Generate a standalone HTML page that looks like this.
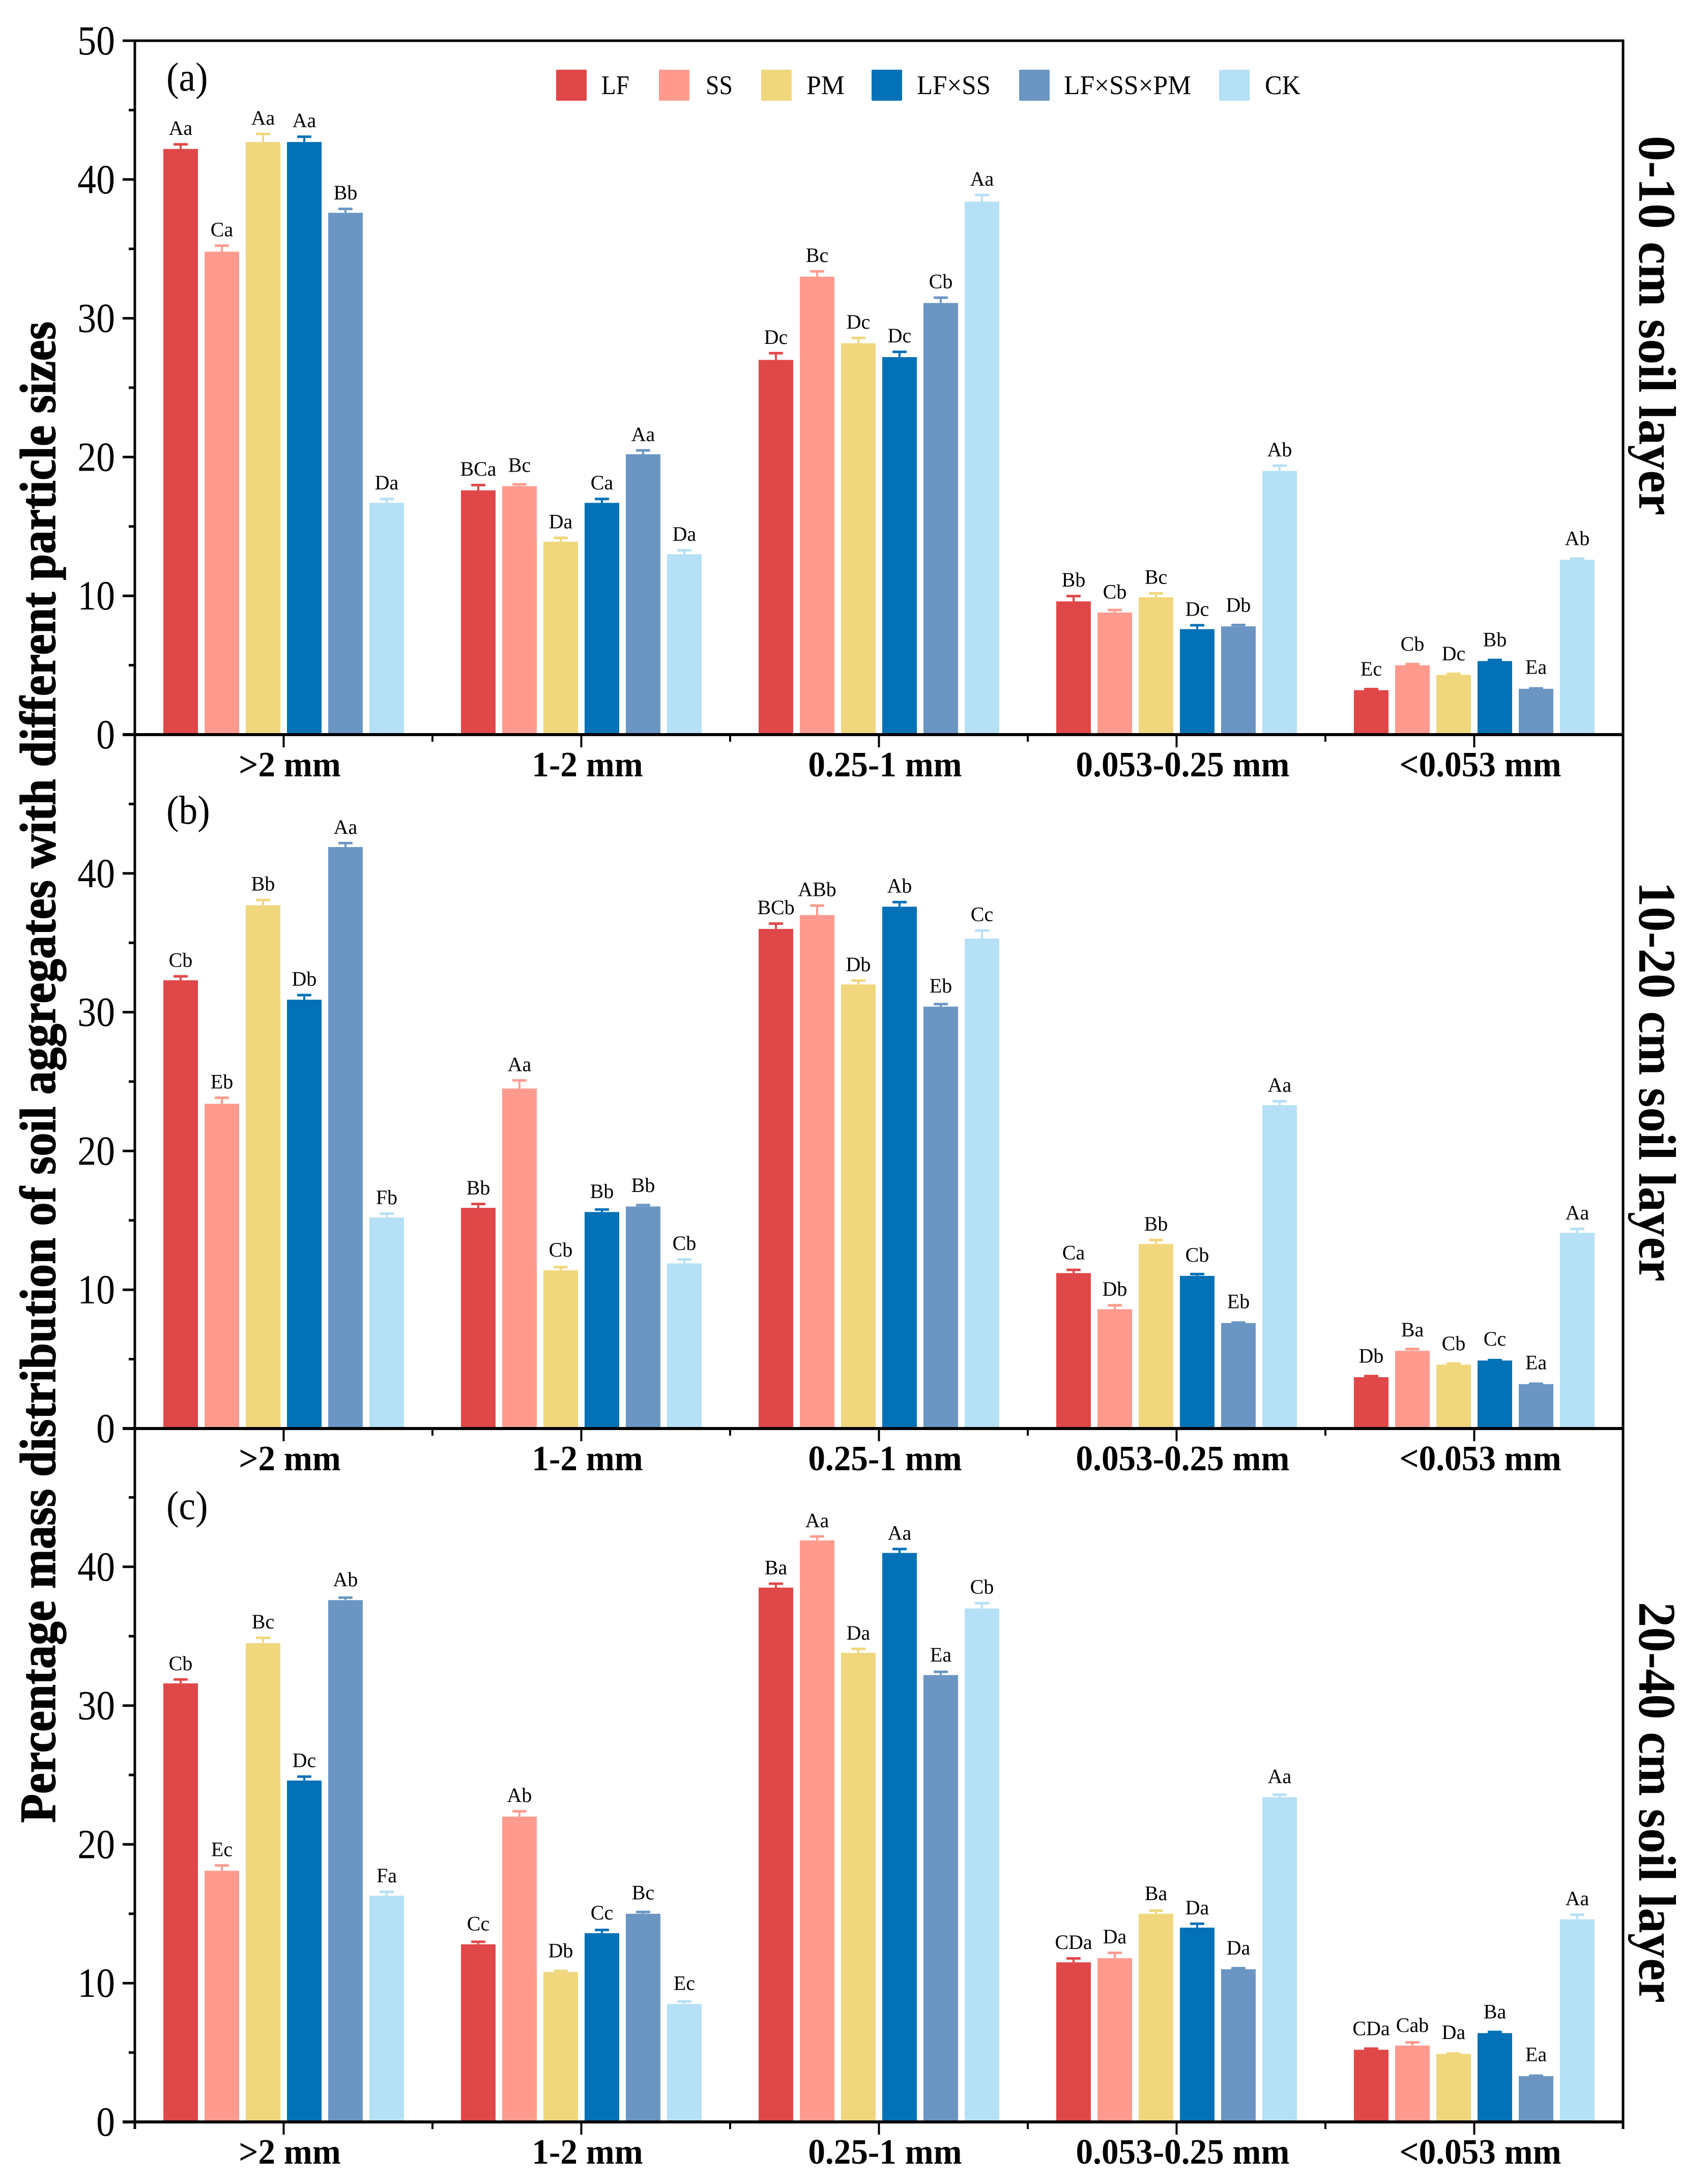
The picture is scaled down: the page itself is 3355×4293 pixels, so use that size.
<!DOCTYPE html>
<html lang="en">
<head>
<meta charset="utf-8">
<title>Percentage mass distribution of soil aggregates</title>
<style>
html,body{margin:0;padding:0;background:#fff;}
svg{display:block;}
text{font-family:"Liberation Serif",serif;fill:#000;}
</style>
</head>
<body>
<svg id="chart" xmlns="http://www.w3.org/2000/svg" width="3355" height="4293" viewBox="0 0 3355 4293">
  <rect x="0" y="0" width="3355" height="4293" fill="#ffffff"/>
  <g id="marks"></g>
  <g id="axes"></g>
  <g id="legend"></g>
  <text transform="translate(108,3583) rotate(-90)" font-size="100" font-weight="bold" stroke="#000" stroke-width="1.5" textLength="2951" lengthAdjust="spacingAndGlyphs">Percentage mass distribution of soil aggregates with different particle sizes</text>
  <text transform="translate(3222,267) rotate(90)" font-size="104" font-weight="bold" textLength="746" lengthAdjust="spacingAndGlyphs">0-10 cm soil layer</text>
  <text transform="translate(3222,1733) rotate(90)" font-size="104" font-weight="bold" textLength="786" lengthAdjust="spacingAndGlyphs">10-20 cm soil layer</text>
  <text transform="translate(3222,3149) rotate(90)" font-size="104" font-weight="bold" textLength="788" lengthAdjust="spacingAndGlyphs">20-40 cm soil layer</text>
</svg>
<script>
const categories = [">2 mm", "1-2 mm", "0.25-1 mm", "0.053-0.25 mm", "<0.053 mm"];
const seriesNames = ["LF", "SS", "PM", "LF×SS", "LF×SS×PM", "CK"];
const yTicksA = [0, 10, 20, 30, 40, 50];
const yTicksBC = [0, 10, 20, 30, 40];
const yMinorTicks = [5, 15, 25, 35, 45];
const panelNames = ["(a)", "(b)", "(c)"];

const valuesA = [
  [42.2, 34.8, 42.7, 42.7, 37.6, 16.7],
  [17.6, 17.9, 13.9, 16.7, 20.2, 13.0],
  [27.0, 33.0, 28.2, 27.2, 31.1, 38.4],
  [9.6, 8.8, 9.9, 7.6, 7.8, 19.0],
  [3.2, 5.0, 4.3, 5.3, 3.3, 12.6]
];
const errorsA = [
  [0.35, 0.45, 0.6, 0.4, 0.3, 0.3],
  [0.4, 0.15, 0.3, 0.3, 0.3, 0.3],
  [0.5, 0.4, 0.4, 0.4, 0.4, 0.5],
  [0.4, 0.2, 0.3, 0.3, 0.12, 0.4],
  [0.1, 0.1, 0.1, 0.1, 0.05, 0.1]
];
const lettersA = [
  ["Aa", "Ca", "Aa", "Aa", "Bb", "Da"],
  ["BCa", "Bc", "Da", "Ca", "Aa", "Da"],
  ["Dc", "Bc", "Dc", "Dc", "Cb", "Aa"],
  ["Bb", "Cb", "Bc", "Dc", "Db", "Ab"],
  ["Ec", "Cb", "Dc", "Bb", "Ea", "Ab"]
];

const valuesB = [
  [32.3, 23.4, 37.7, 30.9, 41.9, 15.2],
  [15.9, 24.5, 11.4, 15.6, 16.0, 11.9],
  [36.0, 37.0, 32.0, 37.6, 30.4, 35.3],
  [11.2, 8.6, 13.3, 11.0, 7.6, 23.3],
  [3.7, 5.6, 4.6, 4.9, 3.2, 14.1]
];
const errorsB = [
  [0.3, 0.45, 0.4, 0.35, 0.3, 0.3],
  [0.3, 0.6, 0.25, 0.2, 0.12, 0.3],
  [0.4, 0.7, 0.3, 0.35, 0.2, 0.6],
  [0.25, 0.3, 0.3, 0.15, 0.05, 0.3],
  [0.1, 0.15, 0.1, 0.05, 0.05, 0.3]
];
const lettersB = [
  ["Cb", "Eb", "Bb", "Db", "Aa", "Fb"],
  ["Bb", "Aa", "Cb", "Bb", "Bb", "Cb"],
  ["BCb", "ABb", "Db", "Ab", "Eb", "Cc"],
  ["Ca", "Db", "Bb", "Cb", "Eb", "Aa"],
  ["Db", "Ba", "Cb", "Cc", "Ea", "Aa"]
];

const valuesC = [
  [31.6, 18.1, 34.5, 24.6, 37.6, 16.3],
  [12.8, 22.0, 10.8, 13.6, 15.0, 8.5],
  [38.5, 41.9, 33.8, 41.0, 32.2, 37.0],
  [11.5, 11.8, 15.0, 14.0, 11.0, 23.4],
  [5.2, 5.5, 4.9, 6.4, 3.3, 14.6]
];
const errorsC = [
  [0.3, 0.4, 0.4, 0.3, 0.2, 0.3],
  [0.2, 0.4, 0.1, 0.25, 0.15, 0.2],
  [0.3, 0.3, 0.3, 0.3, 0.25, 0.4],
  [0.3, 0.4, 0.25, 0.3, 0.1, 0.2],
  [0.1, 0.25, 0.05, 0.1, 0.05, 0.35]
];
const lettersC = [
  ["Cb", "Ec", "Bc", "Dc", "Ab", "Fa"],
  ["Cc", "Ab", "Db", "Cc", "Bc", "Ec"],
  ["Ba", "Aa", "Da", "Aa", "Ea", "Cb"],
  ["CDa", "Da", "Ba", "Da", "Da", "Aa"],
  ["CDa", "Cab", "Da", "Ba", "Ea", "Aa"]
];

const colors = ["#E04748", "#FF9B8E", "#F0D77D", "#0271B6", "#6B96C3", "#B5E0F5"];
const NS = "http://www.w3.org/2000/svg";
const marks = document.getElementById("marks");
const axes = document.getElementById("axes");
const legend = document.getElementById("legend");

const plotLeft = 265, plotRight = 3190, plotTop = 80;
const baselines = [1444, 2808, 4171];
const unitPx = 27.28;
const barW = 68, barPitch = 81;
const panelLabelY = [178, 1619, 2986];

function xCenter(i) { return plotLeft + (i + 0.5) * (plotRight - plotLeft) / categories.length; }
function xBar(i, j) { return xCenter(i) + (j - 2.5) * barPitch; }
function yVal(p, v) { return baselines[p] - v * unitPx; }

function make(tag, attrs, parent, text) {
  const el = document.createElementNS(NS, tag);
  for (const k in attrs) el.setAttribute(k, attrs[k]);
  if (text !== undefined) el.textContent = text;
  parent.appendChild(el);
  return el;
}

const allValues = [valuesA, valuesB, valuesC];
const allErrors = [errorsA, errorsB, errorsC];
const allLetters = [lettersA, lettersB, lettersC];

allValues.forEach(function (panelValues, p) {
  panelValues.forEach(function (row, i) {
    row.forEach(function (v, j) {
      const cx = xBar(i, j);
      const top = yVal(p, v);
      const err = allErrors[p][i][j];
      const errTop = yVal(p, v + err);
      const bar = make("rect", {x: cx - barW / 2, y: top, width: barW, height: baselines[p] - top, fill: colors[j]}, marks);
      
      
      const stem = make("rect", {x: cx - 2, y: errTop, width: 4, height: top - errTop, fill: colors[j]}, marks);
      
      
      const cap = make("rect", {x: cx - 14, y: errTop - 2, width: 28, height: 5, rx: 1.5, fill: colors[j]}, marks);
      
      
      const gap = 18 + Math.max(0, 0.3 - err) * 40;
      const lab = make("text", {x: cx, y: errTop - gap, "font-size": 40, "text-anchor": "middle", fill: "#111"}, marks, allLetters[p][i][j]);
      
      
    });
  });
});

function line(x1, y1, x2, y2, w, name) {
  const l = make("line", {x1: x1, y1: y1, x2: x2, y2: y2, stroke: "#000", "stroke-width": w}, axes);
  
  
  return l;
}

line(plotLeft, plotTop - 2, plotLeft, baselines[2] + 14, 5, "left-axis-line");
line(plotRight, plotTop - 2, plotRight, baselines[2] + 14, 5, "right-axis-line");
line(plotLeft - 24, plotTop, plotRight + 2, plotTop, 5, "top-axis-line");

baselines.forEach(function (b, p) {
  line(plotLeft - 24, b, plotRight + 2, b, 6, "x-axis-line");
  const ticks = p === 0 ? yTicksA : yTicksBC;
  ticks.forEach(function (t) {
    const y = b - t * unitPx;
    line(plotLeft - 24, y, plotLeft, y, 5, "y-major-tick");
    const lab = make("text", {transform: "translate(226," + (y + 27) + ") scale(0.9,1)", "font-size": 82, "text-anchor": "end"}, axes, String(t));
    
    
  });
  yMinorTicks.forEach(function (t) {
    const y = b - t * unitPx;
    line(plotLeft - 12, y, plotLeft, y, 5, "y-minor-tick");
  });
  categories.forEach(function (c, i) {
    const x = xCenter(i);
    line(x, b, x, b + 25, 4, "x-major-tick");
    if (i < categories.length - 1) {
      const mx = x + (plotRight - plotLeft) / categories.length / 2;
      line(mx, b, mx, b + 14, 4, "x-minor-tick");
    }
    const lab = make("text", {transform: "translate(" + (x + 12) + "," + (b + 82) + ") scale(0.96,1)", "font-size": 70, "font-weight": "bold", "text-anchor": "middle"}, axes, c);
    
    
  });
  const pl = make("text", {transform: "translate(327," + panelLabelY[p] + ") scale(0.92,1)", "font-size": 80}, axes, panelNames[p]);
  
  
});

const swatchLeft = [1093, 1295, 1496, 1713, 2003, 2396];
const labelLeft = [1182, 1387, 1585, 1802, 2091, 2486];
const labelWidth = [55, 53, 75, 145, 250, 70];
seriesNames.forEach(function (n, j) {
  const sw = make("rect", {x: swatchLeft[j], y: 137, width: 60, height: 61, rx: 2, fill: colors[j]}, legend);
  
  
  const t = make("text", {x: labelLeft[j], y: 185, "font-size": 53, textLength: labelWidth[j], lengthAdjust: "spacingAndGlyphs"}, legend, n);
  
  
});
</script>
</body>
</html>
